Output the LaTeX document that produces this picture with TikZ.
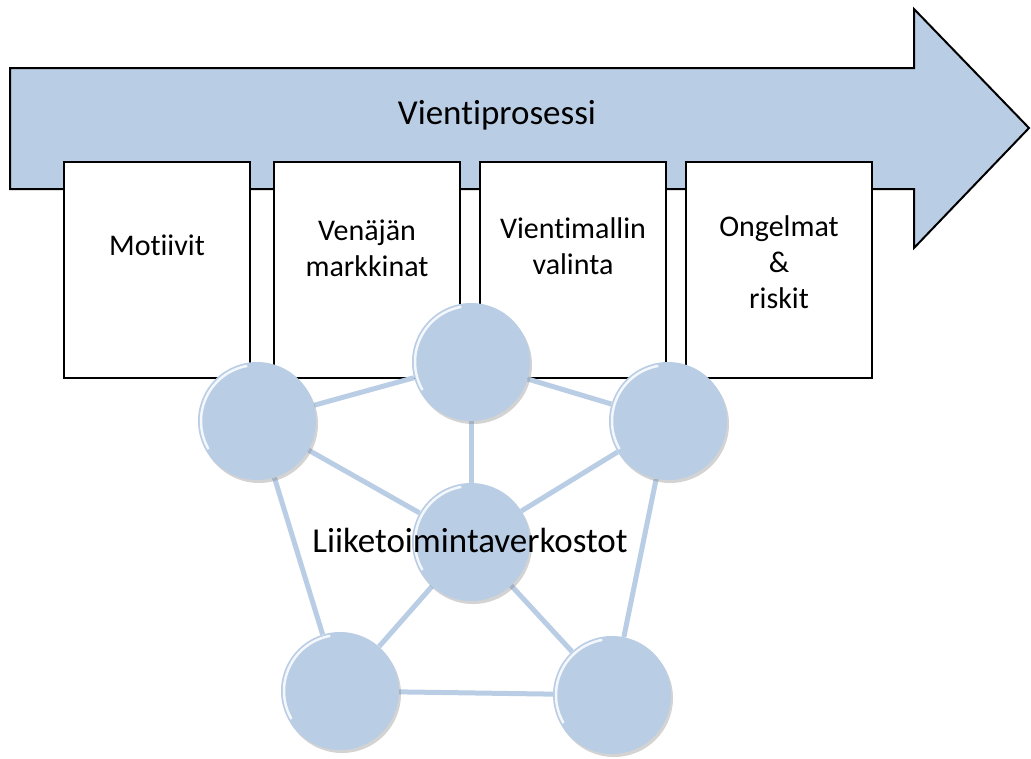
\documentclass[tikz,border=0pt]{standalone}
\usepackage{fontspec}
\setmainfont[RawFeature={-liga}]{Carlito}
\usetikzlibrary{shadows,calc}
\definecolor{netblue}{RGB}{185,205,229}
\pgfdeclarelayer{front}
\pgfsetlayers{main,front}

\begin{document}
\begin{tikzpicture}[x=1pt,y=-1pt,
  proc/.style={draw=black,fill=netblue,line width=2pt,line join=miter},
  stage/.style={draw=black,fill=white,line width=2pt,
                minimum width=186pt,minimum height=216pt,inner sep=0pt},
  stagetxt/.style={font=\fontsize{30}{36}\selectfont,align=center,inner sep=0pt},
  bigtxt/.style={font=\fontsize{35}{40}\selectfont,inner sep=0pt},
  hub/.style={circle,fill=netblue,minimum size=118pt,inner sep=0pt,
              drop shadow={opacity=0.35,shadow xshift=2pt,shadow yshift=-3pt},
              path picture={\draw[white,line width=2.5pt,opacity=0.85]
                (path picture bounding box.center) ++(100:56pt) arc (100:210:56pt);}},
  link/.style={draw=netblue,line width=5pt}
]
  \useasboundingbox (0,0) rectangle (1031,758);

  % Process arrow
  \draw[proc] (10,68) -- (914,68) -- (914,9) -- (1029,128)
              -- (914,248) -- (914,189) -- (10,189) -- cycle;
  \node[bigtxt] (title) at (497,115) {Vientiprosessi};

  % Stages
  \node[stage] (motiv)  at (157,270) {};
  \node[stage] (market) at (367,270) {};
  \node[stage] (model)  at (573,270) {};
  \node[stage] (risk)   at (779,270) {};
  \node[stagetxt] (motivtxt)  at (157,245) {Motiivit};
  \node[stagetxt] (markettxt) at (367,248) {Venäjän\\markkinat};
  \node[stagetxt] (modeltxt)  at (573,246) {Vientimallin\\valinta};
  \node[stagetxt] (risktxt)   at (779,262) {Ongelmat\\\&\\riskit};

  % Network
  \begin{pgfonlayer}{front}
    \node[hub] (top)   at (471,362) {};
    \node[hub] (left)  at (257,421) {};
    \node[hub] (right) at (668,421) {};
    \node[hub] (mid)   at (471,542) {};
    \node[hub] (botl)  at (340,691) {};
    \node[hub] (botr)  at (612,695) {};
    \node[bigtxt] (nettxt) at (470,540) {Liiketoimintaverkostot};
  \end{pgfonlayer}

  \foreach \a/\b in {left/top,top/right,left/mid,top/mid,right/mid,
                     left/botl,right/botr,mid/botl,mid/botr,botl/botr}
    \draw[link] (\a) -- (\b);
\end{tikzpicture}
\end{document}
